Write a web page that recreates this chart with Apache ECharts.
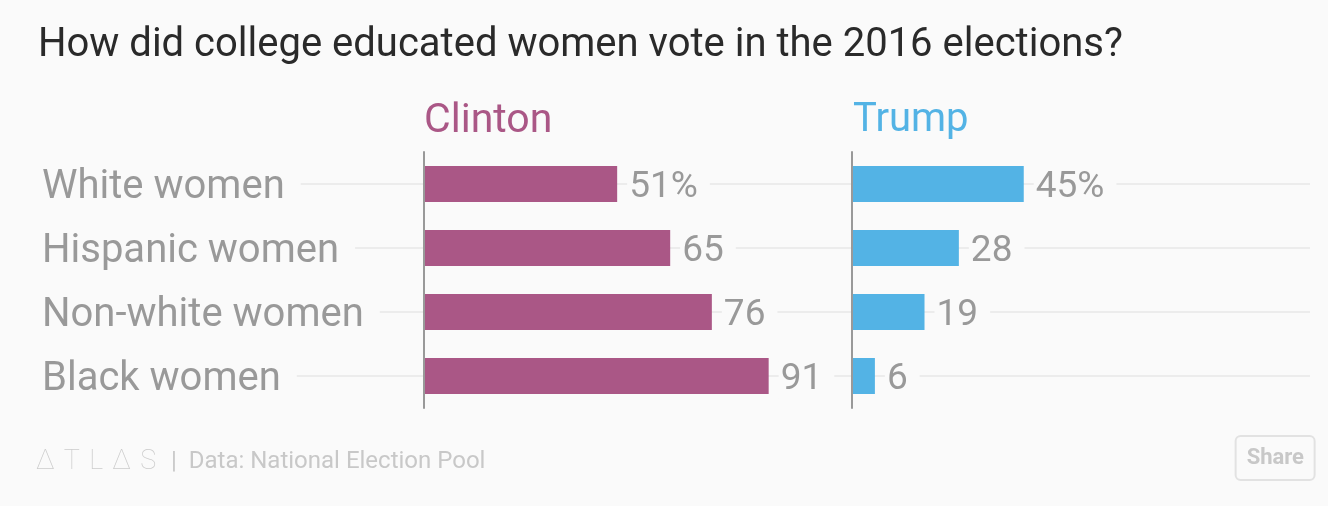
<!DOCTYPE html>
<html>
<head>
<meta charset="utf-8">
<script src="https://cdn.jsdelivr.net/npm/echarts@6/dist/echarts.min.js"></script>
<style>
html,body{margin:0;padding:0;background:#fafafa;}
#chart{width:1328px;height:506px;}
</style>
</head>
<body>
<div id="chart"></div>
<script>
var categories = ['White women', 'Hispanic women', 'Non-white women', 'Black women'];
var clinton = [51, 65, 76, 91];
var trump = [45, 28, 19, 6];
var seriesNames = ['Clinton', 'Trump'];

var FONT = 'Roboto, "Noto Sans", sans-serif';
var BG = '#fafafa';
var chart = echarts.init(document.getElementById('chart'));

function valueLabel(params) {
  return params.dataIndex === 0 ? params.value + '%' : String(params.value);
}

var grids = [
  {left: 42, right: 18, top: 156, bottom: 94},
  {left: 424, width: 428, top: 152, bottom: 98},
  {left: 852, right: 18, top: 152, bottom: 98},
  {left: 42, right: 18, top: 152, bottom: 98}
];

var option = {
  backgroundColor: BG,
  animation: false,
  title: [
    {text: 'How did college educated women vote in the 2016 elections?', left: 33, top: 21,
     textStyle: {fontFamily: FONT, fontSize: 40, fontWeight: 'normal', color: '#2a2a2a'}},
    {text: seriesNames[0], left: 419, top: 96,
     textStyle: {fontFamily: FONT, fontSize: 41, fontWeight: 'normal', color: '#aa5786'}},
    {text: seriesNames[1], left: 848, top: 96,
     textStyle: {fontFamily: FONT, fontSize: 40, fontWeight: 'normal', color: '#53b3e5'}},
    {text: '\u2206 \u200AT \u200AL \u200A\u2206 \u200AS', left: 31, top: 444,
     textStyle: {fontFamily: FONT, fontSize: 27, fontWeight: 'lighter', color: '#cccccc'}},
    {text: '|  Data: National Election Pool', left: 166, top: 445,
     textStyle: {fontFamily: FONT, fontSize: 24, fontWeight: 'normal', color: '#c8c8c8'}},
    {text: 'Share', right: 13, top: 436, padding: [11, 11, 11, 11],
     borderColor: '#e2e2e2', borderWidth: 2, borderRadius: 5,
     textStyle: {fontFamily: FONT, fontSize: 22, fontWeight: 'bold', color: '#c8c8c8'}}
  ],
  grid: grids,
  xAxis: [
    {gridIndex: 0, type: 'value', min: 0, max: 100, show: false},
    {gridIndex: 1, type: 'value', min: 0, max: 113, show: false},
    {gridIndex: 2, type: 'value', min: 0, max: 120, show: false},
    {gridIndex: 3, type: 'value', min: 0, max: 100, show: false}
  ],
  yAxis: [
    {gridIndex: 0, type: 'category', data: categories, inverse: true, z: 10,
     axisLine: {show: false}, axisTick: {show: false}, splitLine: {show: false},
     axisLabel: {inside: true, margin: 0, fontFamily: FONT, fontSize: 40, color: '#999',
       backgroundColor: BG, padding: [0, 16, 0, 0]}},
    {gridIndex: 1, type: 'category', data: categories, inverse: true, z: 8,
     axisLine: {show: true, lineStyle: {color: '#999', width: 2}}, axisTick: {show: false},
     axisLabel: {show: false}, splitLine: {show: false}},
    {gridIndex: 2, type: 'category', data: categories, inverse: true, z: 8,
     axisLine: {show: true, lineStyle: {color: '#999', width: 2}}, axisTick: {show: false},
     axisLabel: {show: false}, splitLine: {show: false}},
    {gridIndex: 3, type: 'category', data: categories, inverse: true, show: false}
  ],
  series: [
    {type: 'line', xAxisIndex: 3, yAxisIndex: 3, data: [], silent: true, z: 1,
     markLine: {silent: true, symbol: 'none', label: {show: false},
       lineStyle: {color: '#ececec', width: 2, type: 'solid'},
       data: categories.map(function (c) { return {yAxis: c}; })}},
    {name: seriesNames[0], type: 'bar', xAxisIndex: 1, yAxisIndex: 1, data: clinton, barWidth: 36, z: 5,
     itemStyle: {color: '#aa5786'},
     label: {show: true, position: 'right', distance: 10, offset: [0, 4], formatter: valueLabel,
       fontFamily: FONT, fontSize: 37, color: '#999', backgroundColor: BG, padding: [0, 12, 0, 2]}},
    {name: seriesNames[1], type: 'bar', xAxisIndex: 2, yAxisIndex: 2, data: trump, barWidth: 36, z: 5,
     itemStyle: {color: '#53b3e5'},
     label: {show: true, position: 'right', distance: 10, offset: [0, 4], formatter: valueLabel,
       fontFamily: FONT, fontSize: 37, color: '#999', backgroundColor: BG, padding: [0, 12, 0, 2]}}
  ]
};
chart.setOption(option);
</script>
</body>
</html>
